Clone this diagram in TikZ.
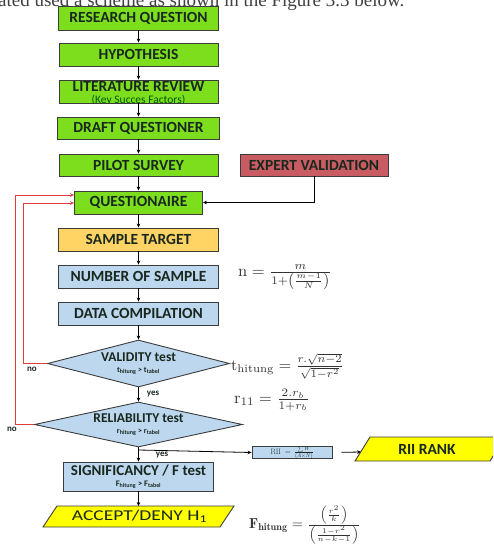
\documentclass[tikz,border=0pt]{standalone}
\usepackage{amsmath}
\usepackage{fontspec}
\usepackage{graphicx}
\newfontfamily\carl{Carlito}
\newfontfamily\tnr{Liberation Serif}
\usetikzlibrary{arrows.meta,shapes.geometric}
\definecolor{gfill}{RGB}{125,222,30}
\definecolor{rfill}{RGB}{200,92,98}
\definecolor{ofill}{RGB}{255,212,100}
\definecolor{bfill}{RGB}{189,215,238}
\definecolor{yfill}{RGB}{255,255,0}
\definecolor{bord}{RGB}{60,60,60}
\definecolor{txt}{RGB}{25,40,30}
\definecolor{fb}{RGB}{225,60,60}
\tikzset{
  box/.style={draw=bord, line width=0.9pt, inner sep=0pt, align=center, text=txt,
    font=\carl\bfseries\fontsize{15.5}{17}\selectfont},
  gbox/.style={box, fill=gfill},
  bbox/.style={box, fill=bfill},
  diam/.style={diamond, draw=bord, line width=0.9pt, fill=bfill, inner sep=0pt},
  dtext/.style={align=center, text=txt, inner sep=0pt},
  arr/.style={-{Stealth[length=4pt,width=3.6pt]}, line width=0.8pt, black},
  farr/.style={-{Stealth[length=4pt,width=3.6pt]}, line width=0.8pt, fb},
  lab/.style={font=\carl\bfseries\fontsize{9}{10}\selectfont, text=txt, inner sep=0pt},
  frm/.style={inner sep=0pt, anchor=west, text=black!80},
}
\begin{document}
\begin{tikzpicture}[x=1pt,y=-1pt]
\clip (0,0) rectangle (493,546);
\fill[white] (0,0) rectangle (493,546);
% cut-off caption line
\node[anchor=base west, inner sep=0pt, font=\tnr\fontsize{19}{20}\selectfont, text=black!75] (cap) at (-2,6.5) {ated used a scheme as shown in the Figure 3.3 below.};
% boxes
\node[gbox, minimum width=160, minimum height=24] (rq) at (138.5,18) {RESEARCH QUESTION};
\node[gbox, minimum width=159, minimum height=23] (hyp) at (138.5,54.5) {HYPOTHESIS};
\node[gbox, minimum width=159, minimum height=23] (lit) at (138.5,91.5) {};
\node[dtext, font=\carl\bfseries\fontsize{15.5}{17}\selectfont] (litt) at (138.5,87) {LITERATURE REVIEW};
\begin{scope}
\clip (lit.south west) rectangle (lit.north east);
\node[dtext, font=\carl\fontsize{11.5}{12}\selectfont, text=green!35!black] (lits) at (138.5,100.5) {(Key Succes Factors)};
\end{scope}
\node[gbox, minimum width=162, minimum height=22] (dq) at (138.5,128) {DRAFT QUESTIONER};
\node[gbox, minimum width=159, minimum height=22] (ps) at (138.5,165) {PILOT SURVEY};
\node[box, fill=rfill, minimum width=148, minimum height=22] (ev) at (314,165) {EXPERT VALIDATION};
\node[gbox, minimum width=128, minimum height=23] (q) at (138.5,202.5) {QUESTIONAIRE};
\node[box, fill=ofill, minimum width=160, minimum height=23] (st) at (138.5,239.5) {SAMPLE TARGET};
\node[bbox, minimum width=160, minimum height=23] (ns) at (138.5,276.5) {NUMBER OF SAMPLE};
\node[bbox, minimum width=160, minimum height=23] (dc) at (138.5,313.5) {DATA COMPILATION};
% diamonds
\node[diam, minimum width=182, minimum height=47] (val) at (138.5,363.5) {};
\node[dtext] at (val) {{\carl\bfseries\fontsize{13.5}{15}\selectfont VALIDITY test}\\[-1pt]{\carl\bfseries\fontsize{8}{8}\selectfont t\textsubscript{hitung} > t\textsubscript{tabel}}};
\node[diam, minimum width=208, minimum height=45] (rel) at (138.5,424.5) {};
\node[dtext] at (rel) {{\carl\bfseries\fontsize{13.5}{15}\selectfont RELIABILITY test}\\[-1pt]{\carl\bfseries\fontsize{8}{8}\selectfont r\textsubscript{hitung} > r\textsubscript{tabel}}};
\node[bbox, minimum width=150, minimum height=29] (sig) at (138.5,476.5) {};
\node[dtext] at (sig) {{\carl\bfseries\fontsize{15}{16}\selectfont SIGNIFICANCY / F test}\\[-1pt]{\carl\bfseries\fontsize{8.5}{9}\selectfont F\textsubscript{hitung} > F\textsubscript{tabel}}};
% accept parallelogram
\draw[draw=bord, line width=0.9pt, fill=yfill] (43,527) -- (57,506) -- (234,506) -- (220,527) -- cycle;
\node[inner sep=0pt, minimum width=177, minimum height=21, font=\carl\fontsize{15}{16}\selectfont, text=txt] (acc) at (139.5,516.5) {\scalebox{1.3}[1]{ACCEPT/DENY H\textsubscript{1}}};
% RII formula box
\node[bbox, minimum width=80, minimum height=11] (rf) at (292,452.5) {\scalebox{0.5}{$\mathrm{RII}\;=\;\frac{\sum W}{(A\times N)}$}};
% RII rank parallelogram
\draw[draw=bord, line width=0.9pt, fill=yfill] (355,461) -- (370,437) -- (505,437) -- (490,461) -- cycle;
\node[inner sep=0pt, font=\carl\bfseries\fontsize{15.5}{16}\selectfont, text=txt] (rr) at (427,449.5) {RII RANK};
\coordinate (rrw) at (361,452);
% formulas
\node[frm] (fn) at (238,277) {\scalebox{1.65}{$\mathrm{n}=\frac{m}{1+\left(\frac{m-1}{N}\right)}$}};
\node[frm] (ft) at (231,366) {\scalebox{1.6}{$\mathrm{t}_{\mathrm{hitung}}=\frac{r.\sqrt{n-2}}{\sqrt{1-r^2}}$}};
\node[frm] (fr) at (234,400) {\scalebox{1.65}{$\mathrm{r}_{11}=\frac{2.r_b}{1+r_b}$}};
\node[frm] (ff) at (249,525) {\scalebox{1.45}{$\mathbf{F}_{\mathbf{hitung}}=\frac{\left(\frac{r^2}{k}\right)}{\left(\frac{1-r^2}{n-k-1}\right)}$}};
% connectors
\draw[arr] (rq) -- (hyp);
\draw[arr] (hyp) -- (lit);
\draw[arr] (lit) -- (dq);
\draw[arr] (dq) -- (ps);
\draw[arr] (ps) -- (q);
\draw[arr] (q) -- (st);
\draw[arr] (st) -- (ns);
\draw[arr] (ns) -- (dc);
\draw[arr] (dc) -- (val);
\draw[arr] (val) -- node[lab, right=8pt, pos=0.45] {yes} (rel);
\draw[arr] (rel) -- (sig);
\draw[arr] (sig.south) -- (sig.south |- 0,506);
\draw[arr] (ev.south) |- (q.east);
\coordinate (br) at (138.5,450);
\node[lab] at (162,455) {yes};
\draw[arr] (br) -- (rf.west);
\draw[arr, shorten <=9pt] (rf.east) -- (rrw);
% feedback
\coordinate (qa) at (q.west |- 0,195);
\coordinate (qb) at (q.west |- 0,203);
\draw[farr] (val.west) -| (23,203) -- (qb);
\draw[farr] (rel.west) -| (15,195) -- (qa);
\node[lab] at (32,369) {no};
\node[lab] at (12,429) {no};
\end{tikzpicture}
\end{document}
